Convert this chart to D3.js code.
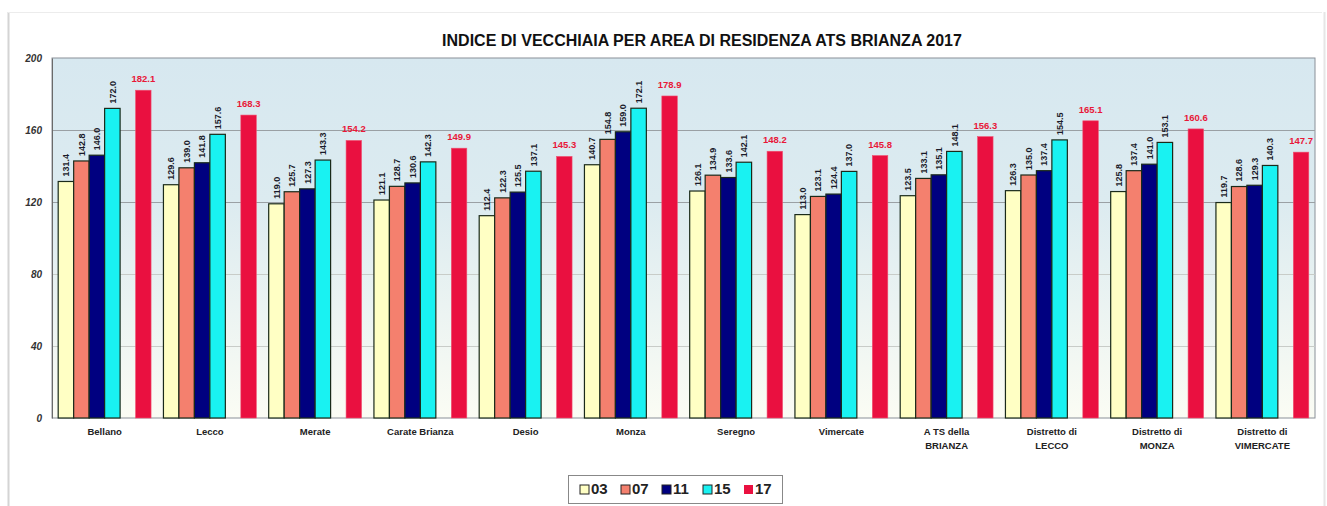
<!DOCTYPE html>
<html>
<head>
<meta charset="utf-8">
<script src="https://cdn.jsdelivr.net/npm/d3@7"></script>
<style>
  body { margin: 0; background: #fff; font-family: "Liberation Sans", Arial, sans-serif; }
  svg text { font-family: "Liberation Sans", Arial, sans-serif; }
</style>
</head>
<body>
<svg id="chart" width="1327" height="506"></svg>
<script>
// data
const areas = [
    ["Bellano"], ["Lecco"], ["Merate"], ["Carate Brianza"], ["Desio"], ["Monza"],
    ["Seregno"], ["Vimercate"], ["A TS della", "BRIANZA"], ["Distretto di", "LECCO"],
    ["Distretto di", "MONZA"], ["Distretto di", "VIMERCATE"]
]
const years = ["03", "07", "11", "15", "17"]
const v03 = [131.4, 129.6, 119.0, 121.1, 112.4, 140.7, 126.1, 113.0, 123.5, 126.3, 125.8, 119.7]
const v07 = [142.8, 139.0, 125.7, 128.7, 122.3, 154.8, 134.9, 123.1, 133.1, 135.0, 137.4, 128.6]
const v11 = [146.0, 141.8, 127.3, 130.6, 125.5, 159.0, 133.6, 124.4, 135.1, 137.4, 141.0, 129.3]
const v15 = [172.0, 157.6, 143.3, 142.3, 137.1, 172.1, 142.1, 137.0, 148.1, 154.5, 153.1, 140.3]
const v17 = [182.1, 168.3, 154.2, 149.9, 145.3, 178.9, 148.2, 145.8, 156.3, 165.1, 160.6, 147.7]
const yTicks = [0, 40, 80, 120, 160, 200]

const series = [v03, v07, v11, v15, v17]
const colors = ["#ffffc4", "#f4806e", "#000080", "#19f2f2", "#ea1040"]
// slot of each series inside a group (slot 4 left empty before 2017)
const slots = [0, 1, 2, 3, 5]

const margin = {top: 58, left: 52, right: 12, bottom: 88}
const width = 1327, height = 506

let svg = d3.select("#chart")

// outer frame
svg.append("line").attr("x1", 8.5).attr("x2", 8.5).attr("y1", 12).attr("y2", 506)
    .attr("stroke", "#d4d4d4").attr("stroke-width", 2)
svg.append("line").attr("x1", 8).attr("x2", 1322).attr("y1", 12.5).attr("y2", 12.5)
    .attr("stroke", "#ececec")
svg.append("line").attr("x1", 1324.5).attr("x2", 1324.5).attr("y1", 12).attr("y2", 506)
    .attr("stroke", "#e6e6e6").attr("stroke-width", 2)

let x = d3.scaleBand()
    .domain(d3.range(areas.length))
    .range([margin.left, width - margin.right])
let xs = d3.scaleBand()
    .domain(d3.range(6))
    .range([0, x.bandwidth()])
    .paddingOuter(0.4)
let y = d3.scaleLinear()
    .domain([0, 200])
    .range([height - margin.bottom, margin.top])

// plot background gradient
let defs = svg.append("defs")
let grad = defs.append("linearGradient").attr("id", "bg")
    .attr("x1", 0).attr("x2", 0).attr("y1", 0).attr("y2", 1)
grad.append("stop").attr("offset", "0%").attr("stop-color", "#d7e8f0")
grad.append("stop").attr("offset", "40%").attr("stop-color", "#dcebf0")
grad.append("stop").attr("offset", "100%").attr("stop-color", "#fbfcf4")

svg.append("rect")
    .attr("x", margin.left).attr("y", y(200))
    .attr("width", width - margin.right - margin.left)
    .attr("height", y(0) - y(200))
    .attr("fill", "url(#bg)")
    .attr("stroke", "#8a9098")

// gridlines
svg.append("g")
    .selectAll("line")
    .data(yTicks.filter(t => t > 0 && t < 200))
    .join("line")
    .attr("x1", margin.left).attr("x2", width - margin.right)
    .attr("y1", d => Math.round(y(d)) + 0.5).attr("y2", d => Math.round(y(d)) + 0.5)
    .attr("stroke", d => d >= 120 ? "#9aa0a4" : "#c8ccc8")

// y axis
let gy = svg.append("g")
    .attr("transform", `translate(${margin.left},0)`)
    .call(d3.axisLeft(y).tickValues(yTicks).tickSize(0).tickPadding(10))
gy.select(".domain").attr("stroke", "#6a6a6a")
gy.selectAll("text")
    .attr("font-size", 10).attr("font-weight", "bold").attr("font-style", "italic")
    .attr("fill", "#333")

// bars
let groups = svg.append("g")
    .selectAll(".area")
    .data(areas)
    .join("g")
    .classed("area", true)
    .attr("transform", (d, i) => `translate(${x(i)},0)`)

series.forEach((vals, s) => {
    groups.append("rect")
        .attr("x", (d, i) => xs(slots[s]))
        .attr("y", (d, i) => y(vals[i]))
        .attr("width", xs.bandwidth())
        .attr("height", (d, i) => y(0) - y(vals[i]))
        .attr("fill", colors[s])
        .attr("stroke", s == 4 ? "#f05070" : "#1a2a1a")
        .attr("stroke-width", s == 4 ? 0.6 : 1.2)

    if (s < 4) {
        groups.append("text")
            .attr("transform", (d, i) => {
                let cx = xs(slots[s]) + xs.bandwidth() / 2
                return `translate(${cx},${y(vals[i]) - 5}) rotate(-90)`
            })
            .attr("dy", "0.35em")
            .attr("font-size", 9)
            .attr("font-weight", "bold")
            .attr("fill", "#1a1a2a")
            .text((d, i) => vals[i].toFixed(1))
    } else {
        groups.append("text")
            .attr("x", xs(slots[s]) + xs.bandwidth() / 2)
            .attr("y", (d, i) => y(vals[i]) - 8)
            .attr("text-anchor", "middle")
            .attr("font-size", 9.5)
            .attr("font-weight", "bold")
            .attr("fill", "#e81838")
            .text((d, i) => vals[i].toFixed(1))
    }
})

// category labels
groups.append("text")
    .attr("x", x.bandwidth() / 2)
    .attr("y", y(0) + 17)
    .attr("text-anchor", "middle")
    .attr("font-size", 9.5)
    .attr("font-weight", "bold")
    .attr("fill", "#222")
    .selectAll("tspan")
    .data(d => d)
    .join("tspan")
    .attr("x", x.bandwidth() / 2)
    .attr("dy", (d, i) => i ? 14 : 0)
    .text(d => d)

// title
svg.append("text")
    .attr("x", 702).attr("y", 46)
    .attr("text-anchor", "middle")
    .attr("font-size", 16)
    .attr("font-weight", "bold")
    .attr("fill", "#111")
    .text("INDICE DI VECCHIAIA PER AREA DI RESIDENZA ATS BRIANZA 2017")

// legend
let legend = svg.append("g").attr("transform", "translate(568,475)")
legend.append("rect")
    .attr("x", 0.5).attr("y", 0.5).attr("width", 214).attr("height", 28)
    .attr("fill", "#fff").attr("stroke", "#888")
let items = legend.selectAll(".item")
    .data(years)
    .join("g")
    .classed("item", true)
    .attr("transform", (d, i) => `translate(${12 + i * 41},14)`)
items.append("rect")
    .attr("x", 0).attr("y", -4).attr("width", 9).attr("height", 9)
    .attr("fill", (d, i) => colors[i])
    .attr("stroke", (d, i) => i == 4 ? "none" : "#222")
items.append("text")
    .attr("x", 11).attr("dy", "0.36em")
    .attr("font-size", 15).attr("font-weight", "bold").attr("fill", "#222")
    .text(d => d)
</script>
</body>
</html>
